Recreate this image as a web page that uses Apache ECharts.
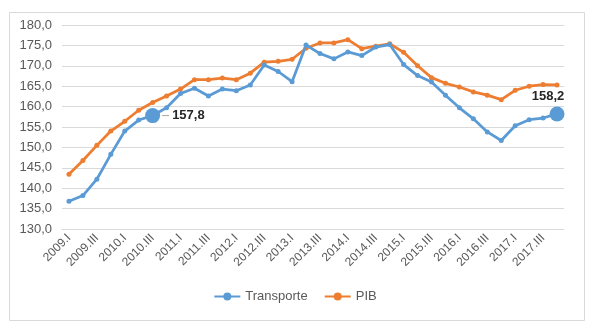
<!DOCTYPE html>
<html>
<head>
<meta charset="utf-8">
<script src="https://cdn.jsdelivr.net/npm/echarts@6/dist/echarts.min.js"></script>
<style>html,body{margin:0;padding:0;background:#fff;}#c{width:590px;height:325px;}</style>
</head>
<body>
<div id="c"></div>
<script>
var years = [2009, 2010, 2011, 2012, 2013, 2014, 2015, 2016, 2017];
var quarters = ['I', 'II', 'III', 'IV'];
var categories = [];
years.forEach(function (y) { quarters.forEach(function (q) { categories.push(y + '.' + q); }); });

var transporte = [136.8, 138.2, 142.2, 148.3, 154.0, 156.7, 157.8, 159.7, 163.2, 164.5, 162.6, 164.3,
  163.9, 165.3, 170.2, 168.6, 166.1, 175.1, 173.0, 171.7, 173.4, 172.5, 174.6, 175.2,
  170.3, 167.6, 166.0, 162.8, 159.7, 157.0, 153.8, 151.7, 155.3, 156.8, 157.2, 158.2];
var pib = [143.4, 146.8, 150.5, 154.0, 156.4, 159.1, 161.0, 162.6, 164.3, 166.6, 166.6, 167.0,
  166.6, 168.2, 170.9, 171.1, 171.6, 174.3, 175.6, 175.6, 176.4, 174.2, 174.8, 175.4,
  173.3, 170.0, 167.1, 165.7, 164.8, 163.6, 162.8, 161.7, 164.0, 165.0, 165.4, 165.3];
var yTicks = [130, 135, 140, 145, 150, 155, 160, 165, 170, 175, 180];
var labeledPoints = ['2010.III', '2017.IV'];

function fmt(v) { return v.toFixed(1).replace('.', ','); }

var FONT = '"Liberation Sans", Arial, sans-serif';
var BLUE = '#5b9bd5', ORANGE = '#ed7d31';

var tData = transporte.map(function (v, i) {
  var cat = categories[i];
  if (cat === labeledPoints[0]) {
    return { value: v, symbolSize: 15,
      label: { show: true, position: 'right', distance: 2,
        formatter: function (p) { return '{l|}{v|' + fmt(p.value) + '}'; },
        rich: { l: { width: 7, height: 1, backgroundColor: '#a6a6a6' },
                v: { fontSize: 13, fontWeight: 'bold', color: '#262626', fontFamily: FONT, padding: [0, 0, 0, 3] } } } };
  }
  if (cat === labeledPoints[1]) {
    return { value: v, symbolSize: 15,
      label: { show: true, position: 'top', distance: 4, offset: [-9, 0],
        formatter: function (p) { return fmt(p.value); },
        fontSize: 13, fontWeight: 'bold', color: '#262626', fontFamily: FONT } };
  }
  return v;
});

var chart = echarts.init(document.getElementById('c'));
chart.setOption({
  animation: false,
  backgroundColor: '#fff',
  graphic: [{ type: 'rect', left: 7, top: 10, shape: { width: 575, height: 308 },
    style: { fill: 'none', stroke: '#d9d9d9', lineWidth: 1 }, silent: true }],
  grid: { left: 62, right: 26, top: 25, bottom: 96 },
  legend: {
    bottom: 17, left: 'center', itemWidth: 26, itemHeight: 10, itemGap: 16,
    textStyle: { fontSize: 13, color: '#595959', fontFamily: FONT },
    data: ['Transporte', 'PIB']
  },
  xAxis: {
    type: 'category', data: categories, boundaryGap: true,
    axisLine: { lineStyle: { color: '#d9d9d9' } },
    axisTick: { show: false },
    axisLabel: { interval: 1, rotate: 45, fontSize: 12, color: '#595959', fontFamily: FONT, margin: 7 }
  },
  yAxis: {
    type: 'value', min: yTicks[0], max: yTicks[yTicks.length - 1], interval: 5,
    axisLine: { show: false }, axisTick: { show: false },
    splitLine: { lineStyle: { color: '#d9d9d9' } },
    axisLabel: { fontSize: 13, color: '#595959', fontFamily: FONT, margin: 10,
      formatter: function (v) { return fmt(v); } }
  },
  series: [
    { name: 'Transporte', type: 'line', data: tData, color: BLUE, showAllSymbol: true,
      symbol: 'circle', symbolSize: 5, lineStyle: { width: 2.75 }, z: 3 },
    { name: 'PIB', type: 'line', data: pib, color: ORANGE, showAllSymbol: true,
      symbol: 'circle', symbolSize: 5, lineStyle: { width: 2.75 }, z: 2 }
  ]
});
</script>
</body>
</html>
